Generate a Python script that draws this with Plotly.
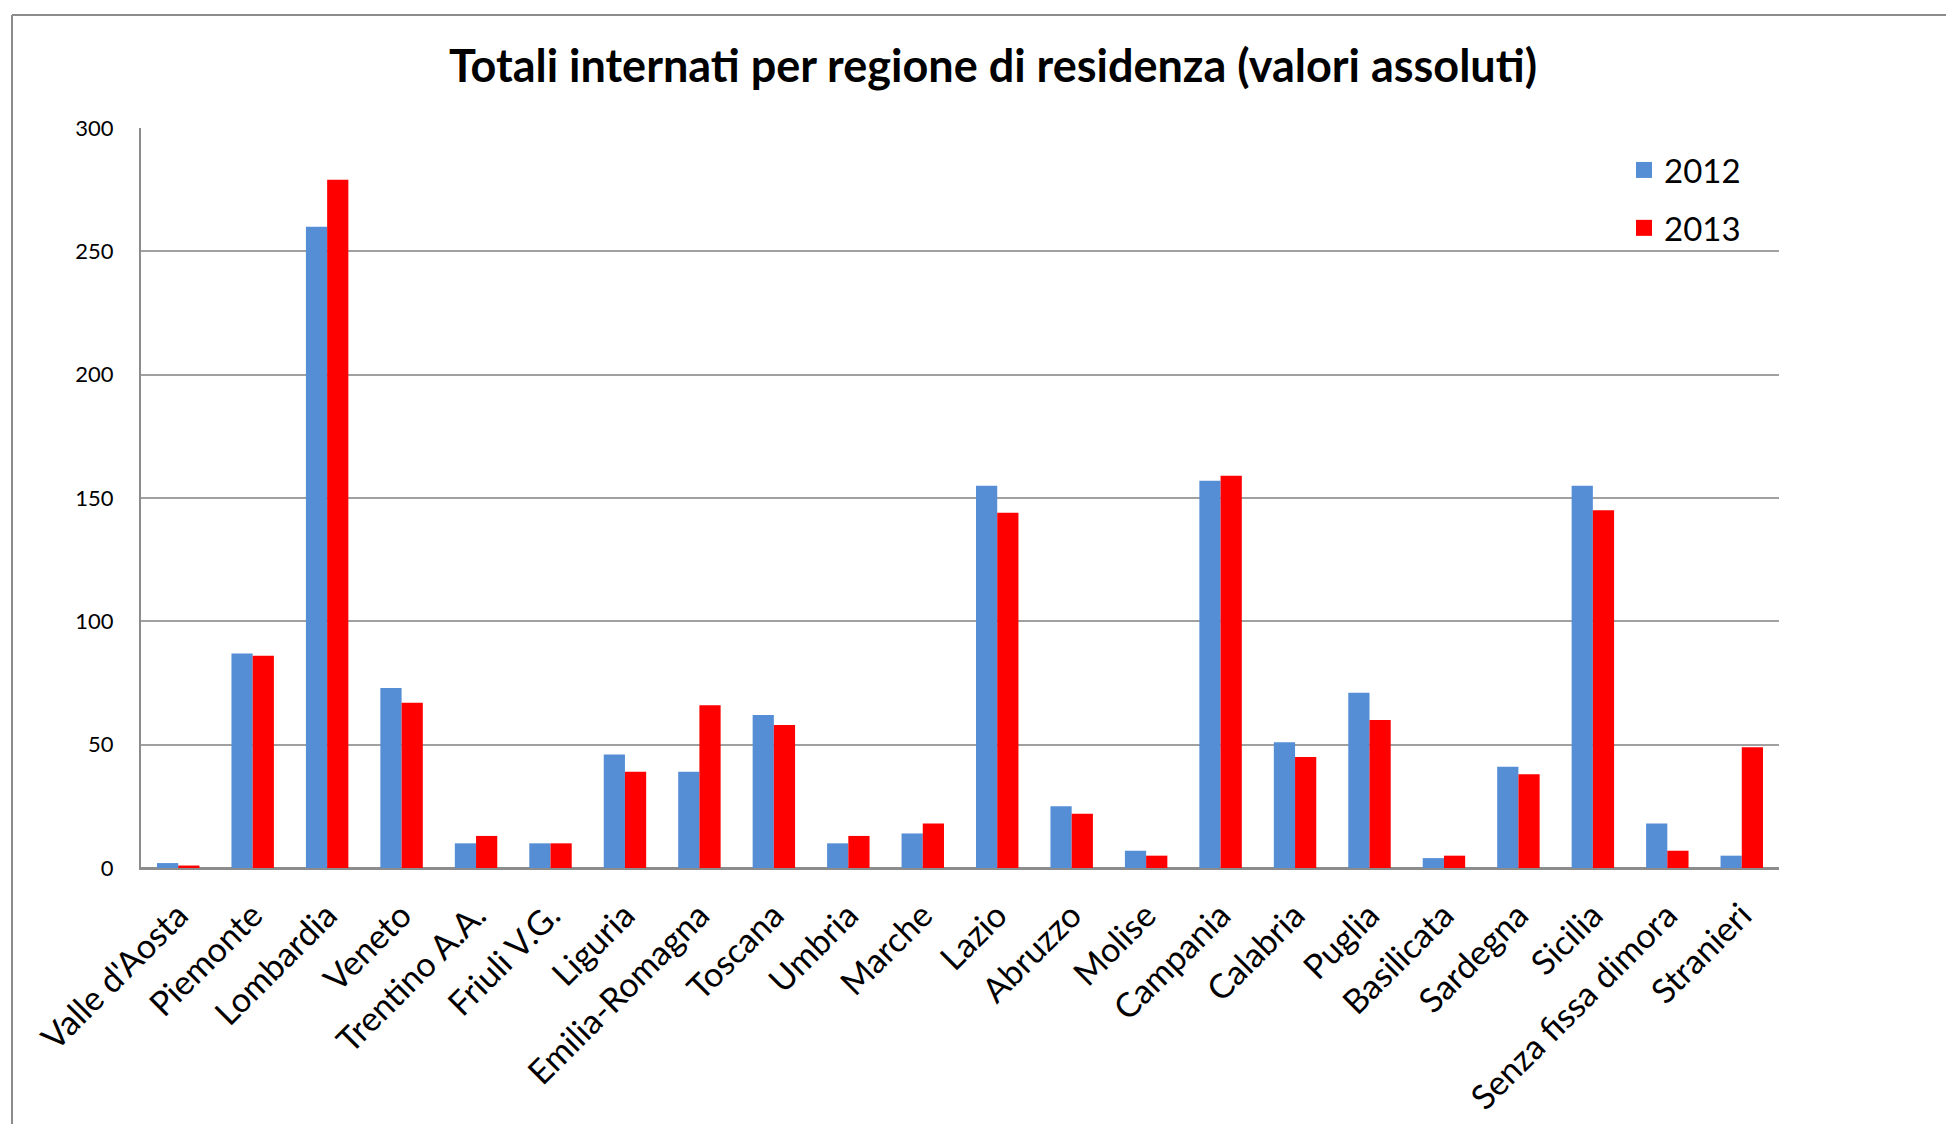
import plotly.graph_objects as go

categories = ["Valle d'Aosta", "Piemonte", "Lombardia", "Veneto", "Trentino A.A.",
              "Friuli V.G.", "Liguria", "Emilia-Romagna", "Toscana", "Umbria", "Marche",
              "Lazio", "Abruzzo", "Molise", "Campania", "Calabria", "Puglia", "Basilicata",
              "Sardegna", "Sicilia", "Senza fissa dimora", "Stranieri"]
values_2012 = [2, 87, 260, 73, 10, 10, 46, 39, 62, 10, 14, 155, 25, 7, 157, 51, 71, 4, 41, 155, 18, 5]
values_2013 = [1, 86, 279, 67, 13, 10, 39, 66, 58, 13, 18, 144, 22, 5, 159, 45, 60, 5, 38, 145, 7, 49]
y_ticks = [0, 50, 100, 150, 200, 250, 300]

FONT = "Lato"
BLUE, RED = "#558ED5", "#FF0000"
W, H = 1938, 1116
ML, MT = 133, 120
PR, PB = 1771, 860          # plot right / bottom in figure px
MR, MB = W - PR, H - PB
PW, PH = PR - ML, PB - MT

fig = go.Figure()
fig.add_trace(go.Bar(x=categories, y=values_2012, name="2012", showlegend=False,
                     marker=dict(color=BLUE, line=dict(width=0))))
fig.add_trace(go.Bar(x=categories, y=values_2013, name="2013", showlegend=False,
                     marker=dict(color=RED, line=dict(width=0))))
# legend entries with larger square swatches
fig.add_trace(go.Scatter(x=[None], y=[None], mode="markers", name="2012", legendgroup="a",
                         marker=dict(symbol="square", size=20, color=BLUE)))
fig.add_trace(go.Scatter(x=[None], y=[None], mode="markers", name="2013", legendgroup="b",
                         marker=dict(symbol="square", size=20, color=RED)))

# outer frame (top and left edges)
fx = (4 - ML) / PW
fy = (PB - 7) / PH
fig.add_shape(type="line", xref="paper", yref="paper", x0=fx, x1=(W - ML) / PW, y0=fy, y1=fy,
              line=dict(color="#8C8C8C", width=2))
fig.add_shape(type="line", xref="paper", yref="paper", x0=fx, x1=fx, y0=fy, y1=-(MB + 10) / PH,
              line=dict(color="#8C8C8C", width=2))

fig.update_layout(
    width=W, height=H,
    margin=dict(l=ML, r=MR, t=MT, b=MB, autoexpand=False),
    paper_bgcolor="white", plot_bgcolor="white",
    barmode="group", bargap=0.43, bargroupgap=0,
    font=dict(family=FONT, color="black"),
    title=dict(text="<b>Totali internati per regione di residenza (valori assoluti)</b>",
               x=985 / W, xanchor="center", y=1 - 58 / H, yanchor="middle",
               font=dict(family=FONT, size=45, color="black")),
    legend=dict(x=(1616 - ML) / PW, xanchor="left", y=(PB - 134) / PH, yanchor="top",
                font=dict(family=FONT, size=33), bgcolor="rgba(0,0,0,0)",
                tracegroupgap=12),
    xaxis=dict(tickangle=-45, tickfont=dict(family=FONT, size=34), showgrid=False,
               showline=True, linecolor="#8C8C8C", linewidth=2, ticks="",
               ticklabelstandoff=12),
    yaxis=dict(range=[0, 300], tickvals=y_ticks, tickfont=dict(family=FONT, size=22),
               showgrid=True, gridcolor="#A0A0A0", gridwidth=2,
               showline=True, linecolor="#8C8C8C", linewidth=2, ticks="",
               ticklabelstandoff=21,
               zeroline=True, zerolinecolor="#8C8C8C", zerolinewidth=2),
)

fig.write_html("out.html")
